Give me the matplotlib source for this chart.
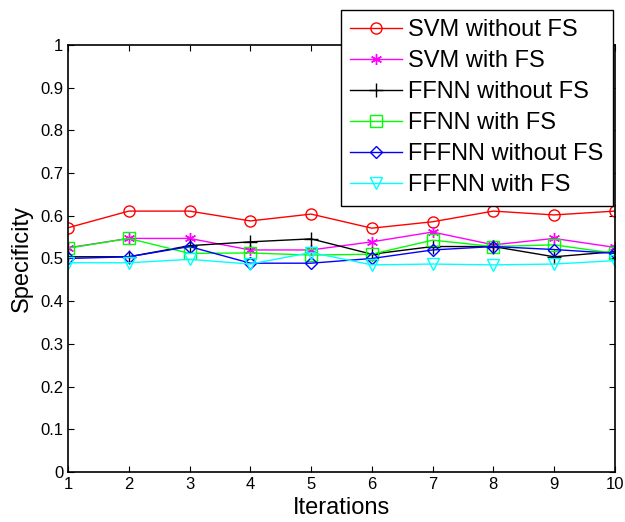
import numpy as np
import matplotlib.pyplot as plt

plt.rcParams['font.family'] = ['Liberation Sans', 'DejaVu Sans']

iterations = np.arange(1, 11)
svm_no_fs = [0.572, 0.611, 0.611, 0.588, 0.604, 0.571, 0.586, 0.611, 0.602, 0.611]
svm_fs = [0.525, 0.547, 0.547, 0.520, 0.520, 0.539, 0.562, 0.532, 0.547, 0.526]
ffnn_no_fs = [0.504, 0.504, 0.530, 0.539, 0.546, 0.510, 0.528, 0.528, 0.504, 0.516]
ffnn_fs = [0.524, 0.547, 0.512, 0.513, 0.508, 0.510, 0.543, 0.528, 0.532, 0.512]
fffnn_no_fs = [0.500, 0.504, 0.528, 0.489, 0.489, 0.500, 0.520, 0.528, 0.521, 0.512]
fffnn_fs = [0.490, 0.490, 0.498, 0.487, 0.514, 0.485, 0.487, 0.485, 0.487, 0.495]

series = [
    ('SVM without FS', svm_no_fs, '#ff0000', 'o'),
    ('SVM with FS', svm_fs, '#ff00ff', (6, 2, 0)),
    ('FFNN without FS', ffnn_no_fs, '#000000', '+'),
    ('FFNN with FS', ffnn_fs, '#00ff00', 's'),
    ('FFFNN without FS', fffnn_no_fs, '#0000ff', 'D'),
    ('FFFNN with FS', fffnn_fs, '#00ffff', 'v'),
]

fig = plt.figure(figsize=(6.25, 5.22), dpi=100)
ax = fig.add_axes([0.1088, 0.0958, 0.875, 0.818])

for name, vals, col, mk in series:
    ms = 8
    if mk == 'D':
        ms = 6.5
    if mk == '+':
        ms = 10
    ax.plot(iterations, vals, color=col, marker=mk, markersize=ms,
            markerfacecolor='none', markeredgecolor=col, linewidth=1, label=name)

ax.set_xlim(1, 10)
ax.set_ylim(0, 1)
ax.set_xticks(iterations)
yt = np.round(np.arange(0, 1.01, 0.1), 1)
ax.set_yticks(yt)
ax.set_yticklabels(['0' if v == 0 else ('1' if v == 1 else f'{v:g}') for v in yt])
ax.tick_params(direction='in', top=True, right=True, labelsize=12, length=4)
for sp in ax.spines.values():
    sp.set_linewidth(1.2)

ax.set_xlabel('Iterations', fontsize=17, labelpad=4)
ax.set_ylabel('Specificity', fontsize=17, labelpad=5)

leg = ax.legend(loc='upper right', bbox_to_anchor=(0.9965, 1.082), fontsize=17,
                frameon=True, fancybox=False, edgecolor='black', framealpha=1,
                handlelength=2.2, handletextpad=0.25, labelspacing=0.38,
                borderpad=0.4, borderaxespad=0)
leg.get_frame().set_linewidth(1)

fig.savefig('out.png', dpi=100)
